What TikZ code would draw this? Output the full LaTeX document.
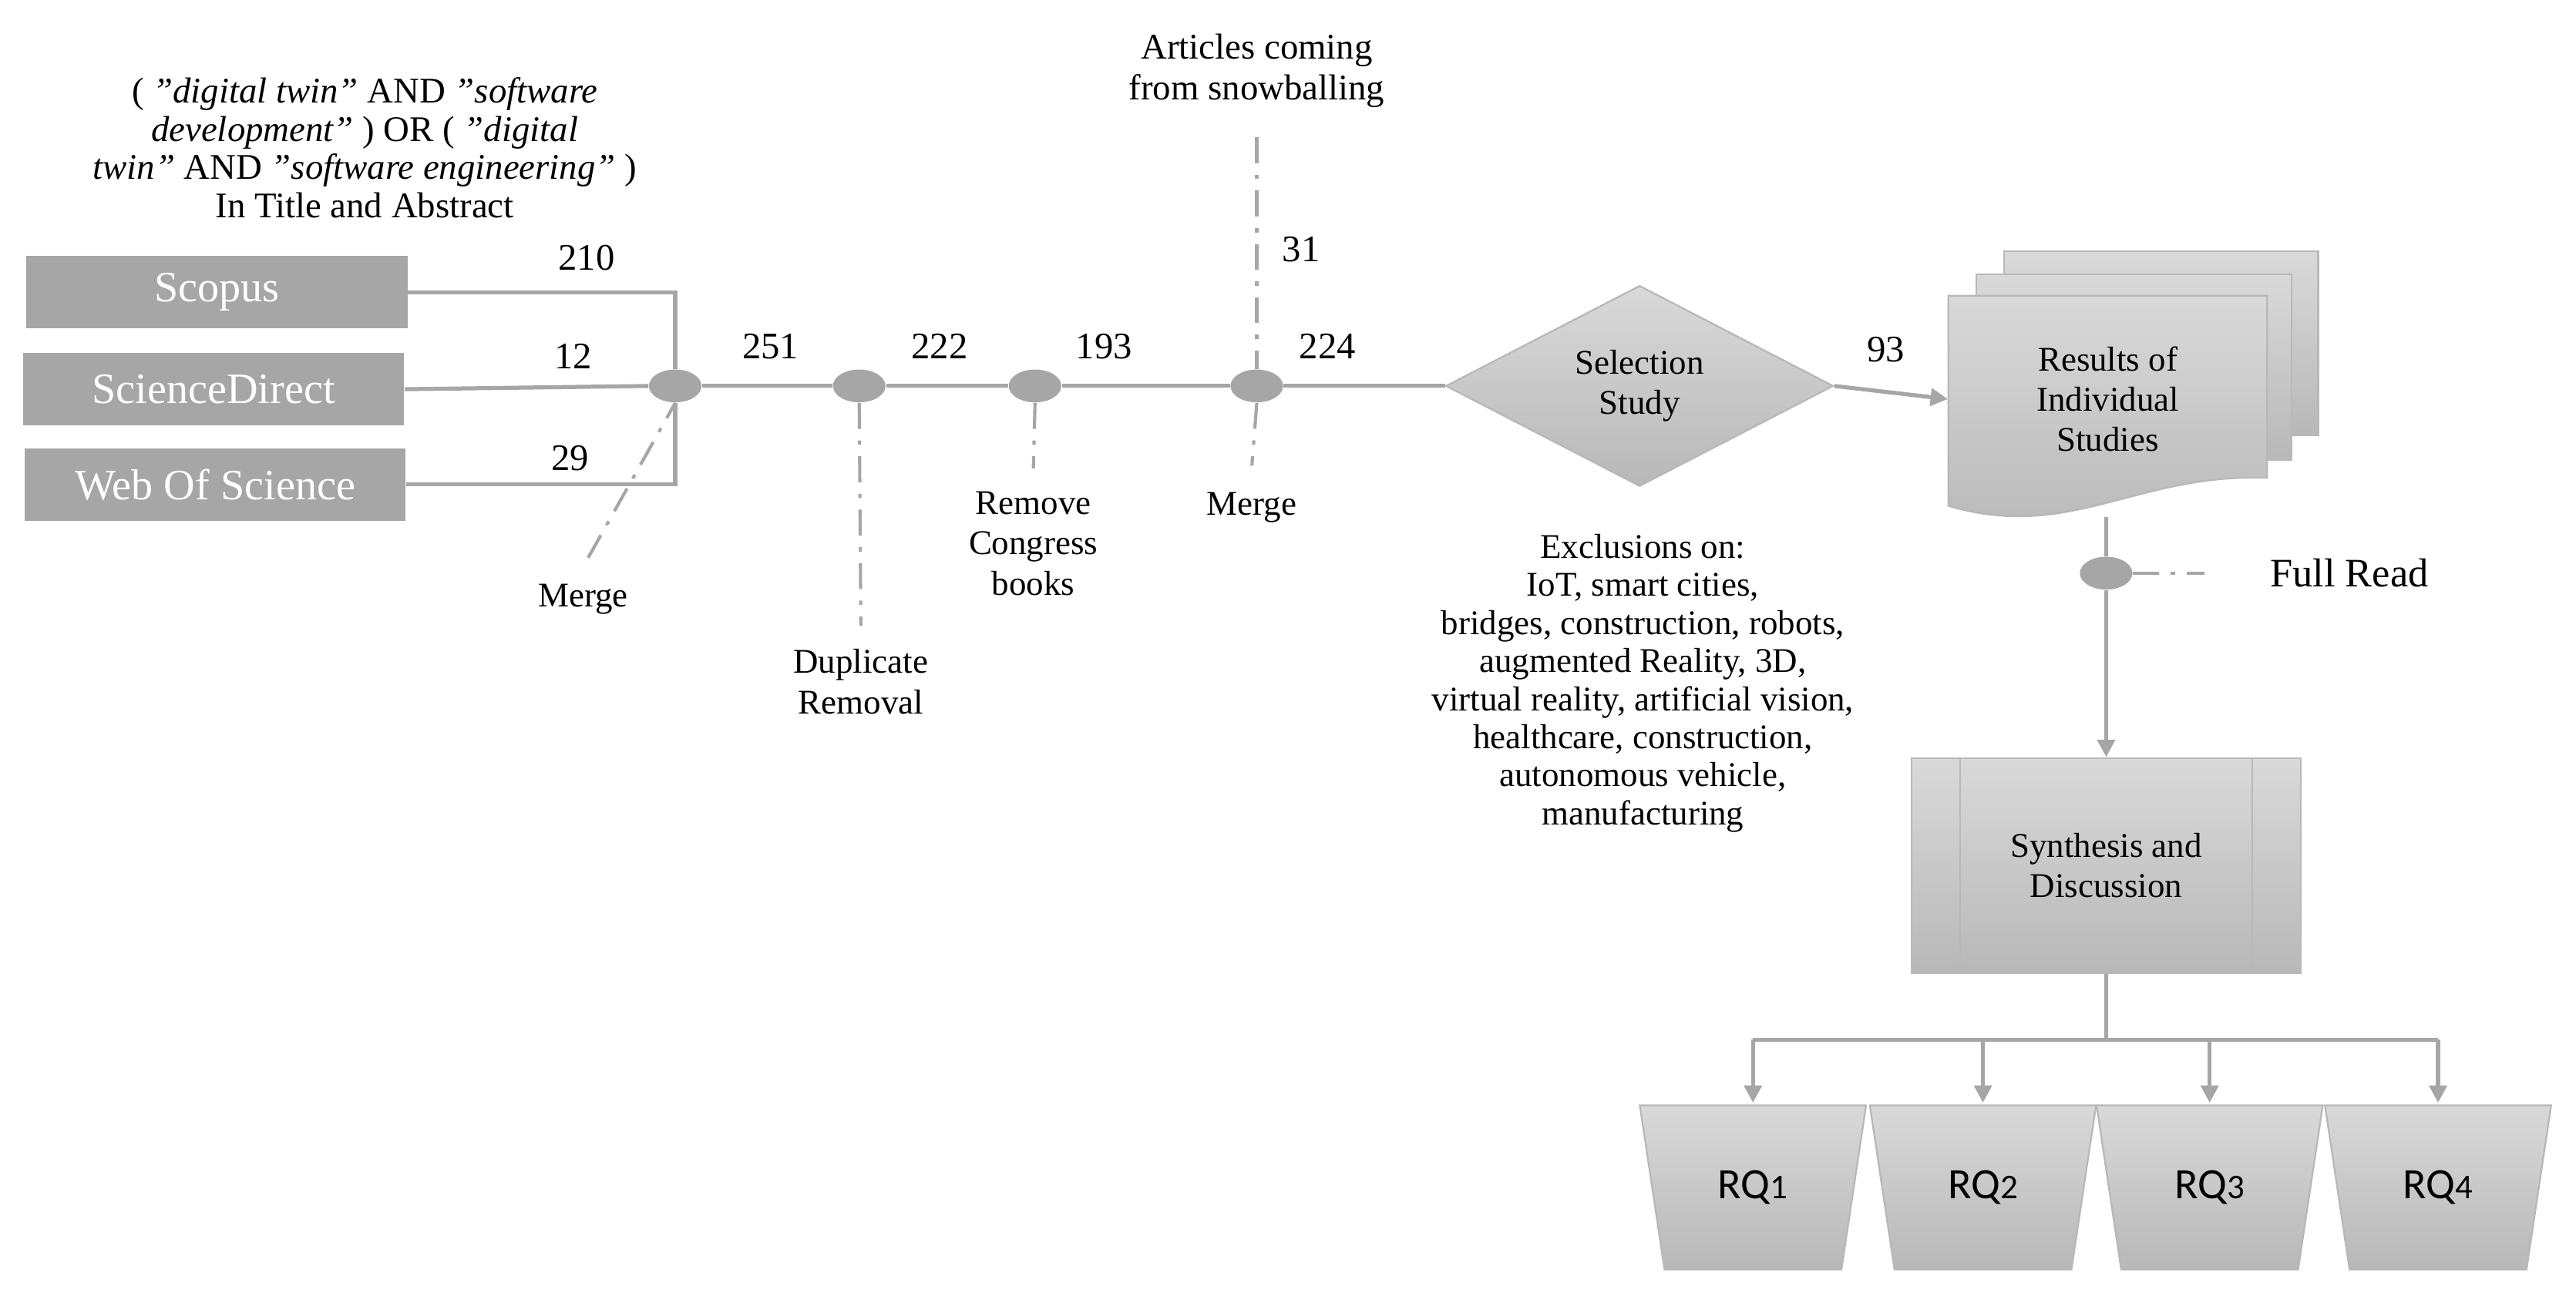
\documentclass[tikz,border=0pt]{standalone}
\usepackage{fontspec}
\setmainfont{Liberation Serif}
\newfontfamily\rqfont{Carlito}
\usetikzlibrary{shapes.geometric,arrows.meta,calc}
\definecolor{ln}{HTML}{A6A6A6}
\definecolor{bx}{HTML}{A6A6A6}
\definecolor{gtop}{HTML}{D9D9D9}
\definecolor{gbot}{HTML}{B8B8B8}
\begin{document}
\begin{tikzpicture}[x=0.02cm,y=-0.02cm,
  src/.style={rectangle,fill=bx,text=white,minimum width=4.64cm,minimum height=0.88cm,inner sep=0,font=\fontsize{15}{16}\selectfont},
  dot/.style={ellipse,fill=ln,minimum width=0.64cm,minimum height=0.4cm,inner sep=0},
  conn/.style={draw=ln,line width=1.4pt},
  dd/.style={draw=ln,line width=1.1pt,dash pattern=on 9pt off 4pt on 1.5pt off 4pt},
  num/.style={font=\fontsize{13}{14}\selectfont},
  lab/.style={font=\fontsize{12}{14}\selectfont,align=center},
  grad/.style={top color=gtop,bottom color=gbot,draw=gbot,line width=0.6pt},
  arr/.style={conn,-{Triangle[length=6pt,width=6pt]}},
  rq/.style={trapezium,shape border rotate=180,trapezium stretches=true,trapezium angle=74,minimum width=2.76cm,minimum height=2cm,inner sep=0,grad,font=\rqfont\fontsize{15}{16}\selectfont}
]
\useasboundingbox (0,0) rectangle (1568,793);
% query
\node[font=\fontsize{12.5}{14.2}\selectfont,align=center] (q) at (222,90) {( \textit{"digital twin"} AND \textit{"software}\\[-1pt] \textit{development"} ) OR ( \textit{"digital}\\[-1pt] \textit{twin"} AND \textit{"software engineering"} )\\[-1pt] In Title and Abstract};
\node[src] (sc) at (132,178) {Scopus};
\node[src] (sd) at (130,237) {ScienceDirect};
\node[src] (ws) at (131,295) {Web Of Science};
\node[dot] (d1) at (411,235) {};
\node[dot] (d2) at (523,235) {};
\node[dot] (d3) at (630,235) {};
\node[dot] (d4) at (765,235) {};
\draw[conn] (sc.east) -| (d1.north);
\draw[conn] (sd.east) -- (d1.west);
\draw[conn] (ws.east) -| (d1.south);
\node[num] at (357,157) {210};
\node[num] at (349,217) {12};
\node[num] at (347,279) {29};
\node[diamond,grad,minimum width=4.72cm,minimum height=2.08cm,inner sep=0,lab] (sel) at (998,235) {Selection\\Study};
\draw[conn] (d1) -- (d2) -- (d3) -- (d4) -- (sel.west);
\node[num] at (469,211) {251};
\node[num] at (572,211) {222};
\node[num] at (672,211) {193};
\node[num] at (808,211) {224};
\node[num] at (792,152) {31};
% annotations
\node[lab] (m1) at (355,365) {Merge};
\draw[dd] (m1.north) ++(3,-10) coordinate (m1a) -- (d1.south);
\node[lab] (dup) at (524,415) {Duplicate\\Removal};
\draw[dd] (d2.south) -- ($(dup.north)+(0,-8)$);
\node[lab] (rem) at (629,331) {Remove\\Congress\\books};
\draw[dd] (d3.south) -- ($(rem.north)+(0,-8)$);
\node[lab] (m2) at (762,309) {Merge};
\draw[dd] (d4.south) -- ($(m2.north)+(0,-10)$);
\node[lab,font=\fontsize{12.5}{14}\selectfont] (art) at (765,43) {Articles coming\\from snowballing};
\draw[dd] ($(art.south)+(0,12)$) -- (d4.north);
% exclusions
\node[font=\fontsize{12}{13.2}\selectfont,align=center] (exc) at (1000,416) {Exclusions on:\\IoT, smart cities,\\bridges, construction, robots,\\augmented Reality, 3D,\\virtual reality, artificial vision,\\healthcare, construction,\\autonomous vehicle,\\manufacturing};
% documents
\path[grad] (1220,153) -- (1411,153) -- (1411,265) -- (1220,265) -- cycle;
\path[grad] (1203,167) -- (1395,167) -- (1395,280) -- (1203,280) -- cycle;
\path[grad] (1186,180) -- (1380,180) -- (1380,291) .. controls (1300,288) and (1260,330) .. (1186,308) -- cycle;
\node[lab,minimum width=3.88cm,minimum height=2.5cm,inner sep=0] (res) at (1283,243) {Results of\\Individual\\Studies};
\draw[arr] (sel.east) -- (res.west);
\node[num] at (1148,213) {93};
\node[dot] (d5) at (1282,349) {};
\draw[conn] (1282,315) -- (d5.north);
\node[font=\fontsize{14}{15}\selectfont] (fr) at (1430,349) {Full Read};
\draw[dd] (d5.east) -- (1342,349);
\node[rectangle,grad,minimum width=4.74cm,minimum height=2.62cm,inner sep=0,lab] (syn) at (1282,527) {Synthesis and\\Discussion};
\draw[draw=gbot,line width=0.6pt] ($(syn.north west)+(30,0)$) -- ($(syn.south west)+(30,0)$)
  ($(syn.north east)+(-30,0)$) -- ($(syn.south east)+(-30,0)$);
\draw[arr] (d5.south) -- (syn.north);
% RQs
\node[rq] (r1) at (1067,723) {RQ{\fontsize{12}{12}\selectfont 1}};
\node[rq] (r2) at (1207,723) {RQ{\fontsize{12}{12}\selectfont 2}};
\node[rq] (r3) at (1345,723) {RQ{\fontsize{12}{12}\selectfont 3}};
\node[rq] (r4) at (1484,723) {RQ{\fontsize{12}{12}\selectfont 4}};
\coordinate (hb) at (1282,633);
\draw[conn] (syn.south) -- (hb);
\draw[conn] (1067,633) -- (1484,633);
\foreach \r in {r1,r2,r3,r4}{\draw[arr] (\r.north |- hb) -- ($(\r.north)+(0,-1)$);}
\end{tikzpicture}
\end{document}
